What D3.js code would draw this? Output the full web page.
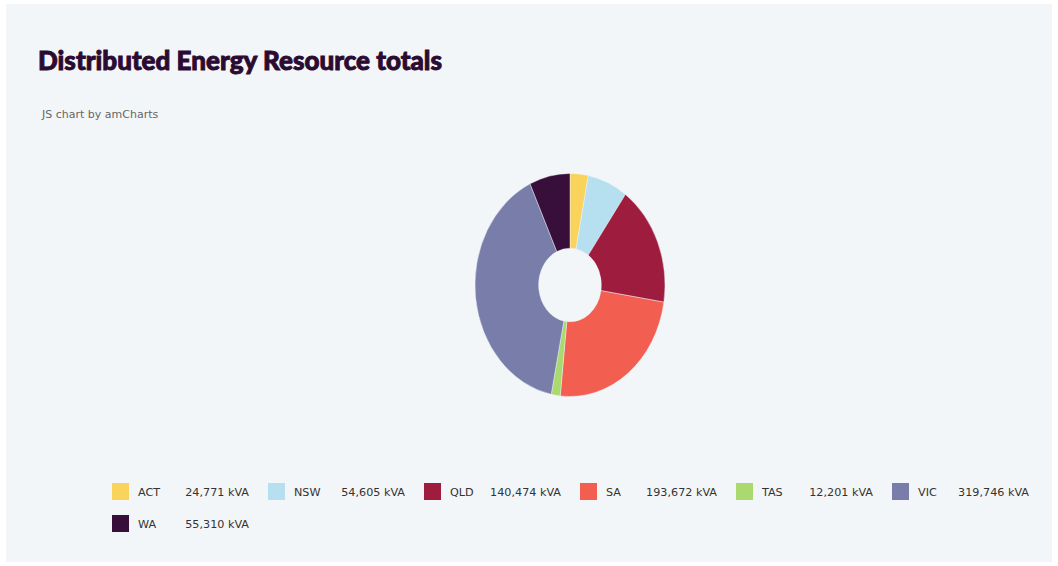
<!DOCTYPE html>
<html>
<head>
<meta charset="utf-8">
<script src="https://cdn.jsdelivr.net/npm/d3@7"></script>
<style>
	html, body { margin: 0; padding: 0; background: #fff; }
	svg { display: block; }
</style>
</head>
<body>
<div id="chart"></div>
<script>
// data
const states = ['ACT', 'NSW', 'QLD', 'SA', 'TAS', 'VIC', 'WA'];
const totals = [24771, 54605, 140474, 193672, 12201, 319746, 55310];
const colours = ['#f9d35c', '#b6e0ef', '#9e1d3f', '#f25f51', '#a9d96f', '#787da9', '#370f3a'];

const width = 1058;
const height = 566;

const svg = d3.select('#chart')
	.append('svg')
	.attr('width', width)
	.attr('height', height);

// card background
svg.append('rect')
	.attr('x', 6)
	.attr('y', 4)
	.attr('width', 1046)
	.attr('height', 558)
	.attr('fill', '#f3f6f9');

svg.append('text')
	.attr('x', 38)
	.attr('y', 70)
	.attr('font-family', 'Lato, sans-serif')
	.attr('font-weight', 900)
	.attr('font-size', 26)
	.attr('fill', '#2b0b31')
	.attr('stroke', '#2b0b31')
	.attr('stroke-width', 0.9)
	.attr('textLength', 404)
	.attr('lengthAdjust', 'spacingAndGlyphs')
	.text('Distributed Energy Resource totals');

svg.append('text')
	.attr('x', 42)
	.attr('y', 118)
	.attr('font-family', '"DejaVu Sans", sans-serif')
	.attr('font-size', 11)
	.attr('fill', '#666')
	.text('JS chart by amCharts');

// donut, squashed into an ellipse like the original
const cx = 570, cy = 285, rx = 95, ry = 111.5;

const pie = d3.pie().sort(null).value((d) => d.value);
const arc = d3.arc().innerRadius(rx * 0.33).outerRadius(rx);

const data = states.map((s, i) => ({ name: s, value: totals[i], colour: colours[i] }));

svg.append('g')
	.attr('transform', `translate(${cx},${cy}) scale(1,${ry / rx})`)
	.selectAll('path')
	.data(pie(data))
	.join('path')
	.attr('d', arc)
	.attr('fill', (d) => d.data.colour)
	.attr('stroke', '#f3f6f9')
	.attr('stroke-width', 0.4);

// legend
const fmt = d3.format(',');
const colX = d3.scaleLinear().domain([0, 1]).range([112, 268]);
const perRow = 6;

const item = svg.append('g')
	.selectAll('g')
	.data(data)
	.join('g')
	.attr('transform', (d, i) => `translate(${colX(i % perRow)},${483 + Math.floor(i / perRow) * 32})`);

item.append('rect')
	.attr('width', 17)
	.attr('height', 17)
	.attr('fill', (d) => d.colour);

item.append('text')
	.attr('x', 26)
	.attr('y', 13)
	.attr('font-family', '"DejaVu Sans", sans-serif')
	.attr('font-size', 11.2)
	.attr('fill', '#333')
	.text((d) => d.name);

item.append('text')
	.attr('x', 137)
	.attr('y', 13)
	.attr('text-anchor', 'end')
	.attr('font-family', '"DejaVu Sans", sans-serif')
	.attr('font-size', 11.2)
	.attr('fill', '#333')
	.text((d) => `${fmt(d.value)} kVA`);
</script>
</body>
</html>
